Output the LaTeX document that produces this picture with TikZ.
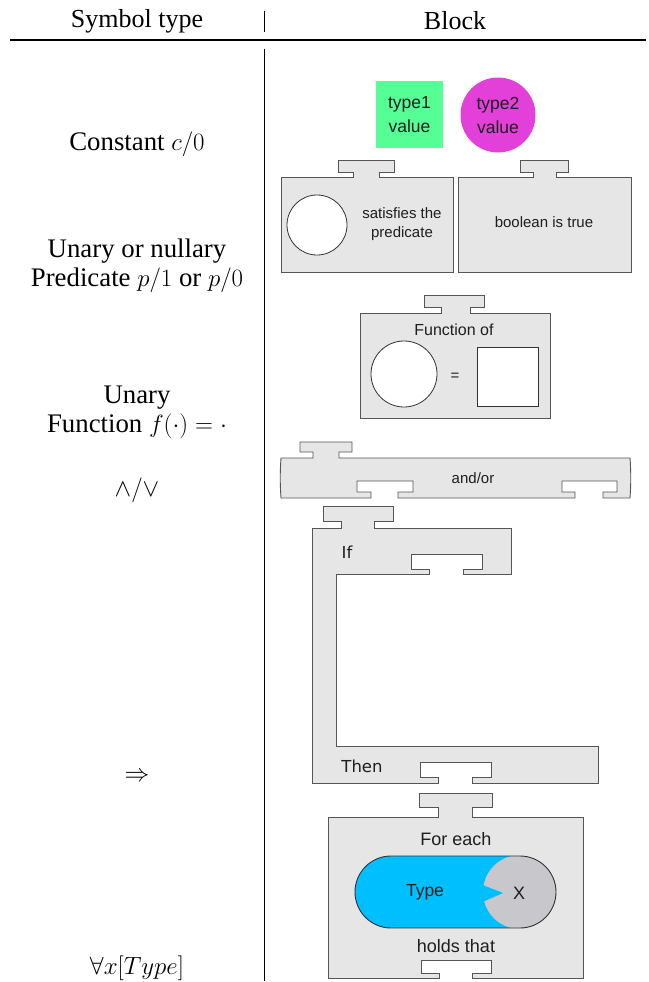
\documentclass[tikz,border=0pt]{standalone}
\usepackage{fontspec}
\setmainfont{Liberation Serif}
\newfontfamily\hsans{Liberation Sans}
\newfontfamily\dsans{DejaVu Sans}
\definecolor{blockfill}{RGB}{230,230,230}
\definecolor{blockline}{RGB}{85,85,85}
\definecolor{typegreen}{RGB}{85,255,150}
\definecolor{typemag}{RGB}{226,64,216}
\definecolor{typeblue}{RGB}{0,191,255}
\definecolor{xgrey}{RGB}{200,200,204}
\definecolor{txt}{RGB}{30,30,30}
\tikzset{
  block/.style={fill=blockfill, draw=blockline, line width=0.9pt, line join=miter},
  hole/.style={fill=white, draw=black!80, line width=0.8pt},
  lefttext/.style={font=\fontsize{26.8}{29}\selectfont, align=center, inner sep=0pt},
  headtext/.style={font=\fontsize{26}{29}\selectfont, inner sep=0pt},
  stext/.style={font=\hsans\fontsize{15}{19}\selectfont, text=txt, align=center, inner sep=0pt},
  mtext/.style={font=\hsans\fontsize{17.5}{24}\selectfont, text=txt, align=center, inner sep=0pt},
  dtext/.style={font=\dsans\fontsize{16.5}{20}\selectfont, text=txt, inner sep=0pt},
}
\begin{document}
\begin{tikzpicture}[x=1pt,y=-1pt]
\useasboundingbox (0,0) rectangle (648,982);
% header
\node[headtext] (hsym) at (137,21) {Symbol type};
\node[headtext] (hblk) at (455,21) {Block};
\coordinate (rl) at (10,40);
\coordinate (rr) at (646,40);
\draw[line width=2.2pt] (rl) -- (rr);
\coordinate (v1a) at (264,11);
\coordinate (v1b) at (264,32);
\coordinate (v2a) at (264,49);
\coordinate (v2b) at (264,981);
\draw[line width=0.8pt] (v1a) -- (v1b);
\draw[line width=0.8pt] (v2a) -- (v2b);
% left column
\node[lefttext] (lconst) at (137,144) {Constant $c/0$};
\node[lefttext] (lpred) at (137,266) {Unary or nullary\\Predicate $p/1$ or $p/0$};
\node[lefttext] (lfun) at (137,412) {Unary\\Function $f(\cdot)=\cdot$};
\node[lefttext] (land) at (137,490) {$\wedge/\vee$};
\node[lefttext] (limp) at (137,777) {$\Rightarrow$};
\node[lefttext] (lall) at (137,968) {$\forall x[Type]$};
% constants
\node[mtext, fill=typegreen, minimum width=67pt, minimum height=67pt] (t1) at (409.5,114.5) {type1\\value};
\node[mtext, fill=typemag, circle, minimum size=75pt] (t2) at (498,115) {type2\\value};
% predicate block 1
\draw[block] (281,177) -- (353,177) -- (353,172) -- (338,172) -- (338,160) -- (394,160) -- (394,172) -- (379,172) -- (379,177) -- (453,177) -- (453,272) -- (281,272) -- cycle;
\draw[hole] (317,225) circle[radius=30];
\node[stext] (psat) at (402,224) {satisfies the\\predicate};
% predicate block 2
\draw[block] (458,177) -- (533,177) -- (533,172) -- (520,172) -- (520,160) -- (568,160) -- (568,172) -- (556,172) -- (556,177) -- (631,177) -- (631,272) -- (458,272) -- cycle;
\node[stext] (pbool) at (544,222) {boolean is true};
% function block
\draw[block] (360,313) -- (441,313) -- (441,307) -- (424,307) -- (424,295) -- (484,295) -- (484,307) -- (470,307) -- (470,313) -- (550,313) -- (550,418) -- (360,418) -- cycle;
\node[stext, font=\hsans\fontsize{16}{19}\selectfont] (ffun) at (454,330) {Function of};
\draw[hole] (404,374) circle[radius=33];
\node[stext] (feq) at (455,377) {=};
\draw[hole] (477,347) rectangle (538,406);
% and/or block
\draw[block] (281,458) -- (313,458) -- (313,452) -- (300,452) -- (300,442) -- (352,442) -- (352,452) -- (339,452) -- (339,458) -- (630,458)
  .. controls (631,471) and (631,485) .. (630,498) -- (603,498) -- (603,492) -- (617,492) -- (617,481) -- (562,481) -- (562,492) -- (575,492) -- (575,498)
  -- (398,498) -- (398,492) -- (413,492) -- (413,481) -- (357,481) -- (357,492) -- (371,492) -- (371,498) -- (281,498)
  .. controls (280,485) and (280,471) .. (281,458) -- cycle;
\node[stext] (aor) at (473,478) {and/or};
% if-then block
\draw[block] (312,528) -- (341,528) -- (341,521) -- (323,521) -- (323,506) -- (393,506) -- (393,521) -- (374,521) -- (374,528) -- (511,528) -- (511,574)
  -- (463,574) -- (463,569) -- (482,569) -- (482,554) -- (411,554) -- (411,569) -- (429,569) -- (429,574) -- (336,574) -- (336,746) -- (598,746) -- (598,783)
  -- (472,783) -- (472,777) -- (491,777) -- (491,762) -- (420,762) -- (420,777) -- (438,777) -- (438,783) -- (312,783) -- cycle;
\node[dtext] (iif) at (347,552) {If};
\node[dtext] (ithen) at (362,766) {Then};
% for-each block
\draw[block] (328,817) -- (438,817) -- (438,807) -- (419,807) -- (419,793) -- (492,793) -- (492,807) -- (472,807) -- (472,817) -- (583,817) -- (583,978)
  -- (472,978) -- (472,973) -- (491,973) -- (491,960) -- (421,960) -- (421,973) -- (439,973) -- (439,978) -- (328,978) -- cycle;
\node[mtext, font=\hsans\fontsize{18}{22}\selectfont] (feach) at (456,839) {For each};
\node[mtext, font=\hsans\fontsize{18}{22}\selectfont] (fholds) at (456,946) {holds that};
\begin{scope}
  \clip[rounded corners=36pt] (355,856) rectangle (556,928);
  \fill[typeblue] (355,856) rectangle (556,928);
  \fill[xgrey] (520,892) circle[radius=37];
  \fill[typeblue] (480,884) -- (503,893) -- (480,903) -- cycle;
\end{scope}
\draw[draw=black!80, line width=0.9pt, rounded corners=36pt] (355,856) rectangle (556,928);
\node[mtext] (ftype) at (425,892) {Type};
\node[mtext, font=\hsans\fontsize{18}{22}\selectfont] (fx) at (519,893) {X};
\end{tikzpicture}
\end{document}
